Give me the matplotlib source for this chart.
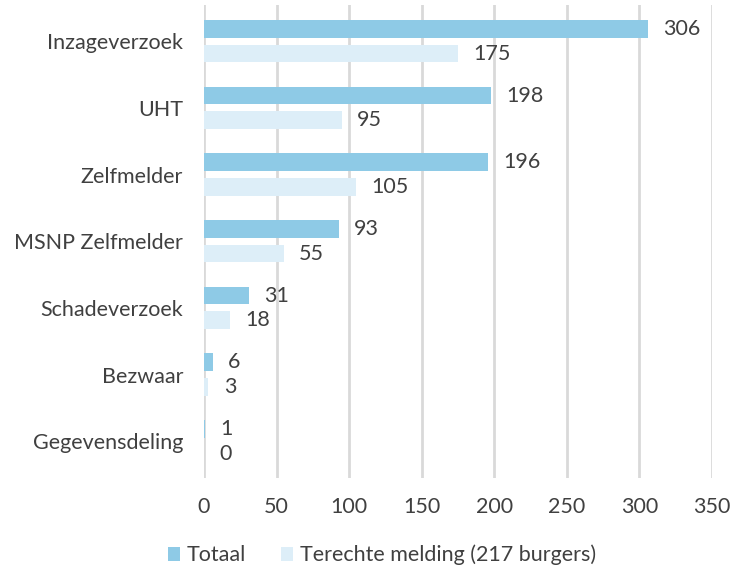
import matplotlib
matplotlib.use("Agg")
import matplotlib.pyplot as plt
import numpy as np

plt.rcParams.update({"font.family": ["Lato", "DejaVu Sans"], "font.size": 15.5,
                     "text.color": "#404040", "xtick.color": "#404040",
                     "ytick.color": "#404040"})

categories = ["Inzageverzoek", "UHT", "Zelfmelder", "MSNP Zelfmelder",
              "Schadeverzoek", "Bezwaar", "Gegevensdeling"]
totaal = [306, 198, 196, 93, 31, 6, 1]
terecht = [175, 95, 105, 55, 18, 3, 0]
series_names = ["Totaal", "Terechte melding (217 burgers)"]
C_TOT, C_TER = "#8ecae6", "#ddeef8"
GRID = "#d9d9d9"

fig = plt.figure(figsize=(7.35, 5.67), dpi=100)
ax = fig.add_axes([0.2776, 0.157, 0.691, 0.835])

y = np.arange(len(categories))
h, off = 0.265, 0.185
b1 = ax.barh(y - off, totaal, h, color=C_TOT, label=series_names[0], zorder=3)
b2 = ax.barh(y + off, terecht, h, color=C_TER, label=series_names[1], zorder=3)

for bars, vals in [(b1, totaal), (b2, terecht)]:
    for b, v in zip(bars, vals):
        ax.annotate(str(v), (v, b.get_y() + b.get_height() / 2),
                    xytext=(11, 0), textcoords="offset points",
                    ha="left", va="center", fontsize=15.5)

ax.set_xlim(0, 350)
ax.set_xticks(range(0, 351, 50))
ax.set_ylim(6.55, -0.55)
ax.set_yticks(y)
ax.set_yticklabels(categories)
ax.tick_params(length=0, labelsize=15.5)
ax.tick_params(axis="x", pad=14)
ax.tick_params(axis="y", pad=15)
for s in ax.spines.values():
    s.set_visible(False)
ax.grid(axis="x", color=GRID, linewidth=2, zorder=0)
ax.set_axisbelow(True)

ax.legend(loc="upper center", bbox_to_anchor=(0.35, -0.1), ncol=2, frameon=False,
          fontsize=15.5, handlelength=0.6, handleheight=0.6, handletextpad=0.3,
          columnspacing=1.6)

fig.savefig("out.png", dpi=100)
